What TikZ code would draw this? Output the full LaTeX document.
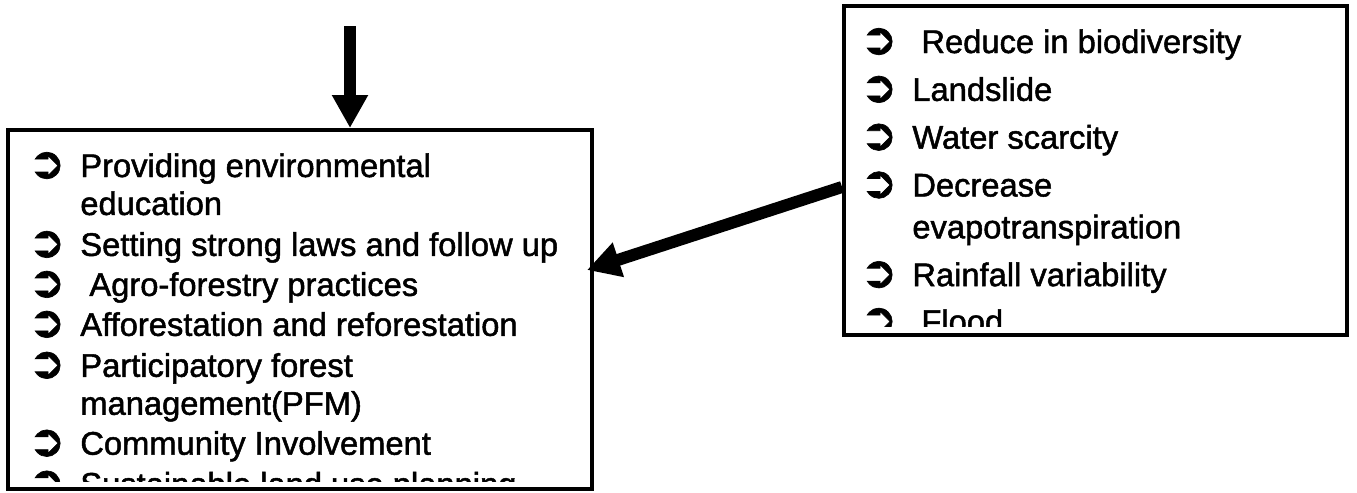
\documentclass[tikz,border=0pt]{standalone}
\usepackage{fontspec}
\setmainfont{Liberation Sans}[FakeBold=1.5]
\newfontfamily\symfont{DejaVu Sans}[FakeBold=1.5]
\usetikzlibrary{arrows.meta}
\newcommand{\itm}{\makebox[0.9cm][l]{\hspace*{-0.14cm}\raisebox{-0.02cm}{\scalebox{1.35}{\symfont ➲}}}}
\newcommand{\cont}{\hspace*{0.9cm}}

\begin{document}
\begin{tikzpicture}[
    box/.style={draw, line width=0.08cm, inner sep=0pt, anchor=center},
    list/.style={anchor=base west, inner sep=0pt},
    leftfont/.style={font=\fontsize{18.6}{21.6}\selectfont},
    rightfont/.style={font=\fontsize{18.6}{23.8}\selectfont},
    bigarrow/.style={line width=0.24cm, -{Triangle[length=0.66cm,width=0.68cm]}},
  ]
  \useasboundingbox (0,0) rectangle (27.14,-9.84);

  % --- the two boxes ---
  \node[box, minimum width=11.68cm, minimum height=7.18cm] (mitig) at (6.0,-6.19) {};
  \node[box, minimum width=10.06cm, minimum height=6.58cm] (impact) at (21.91,-3.41) {};

  % --- measures (left box), cut above the frame ---
  \begin{scope}
    \clip ([shift={(0.08,-0.08)}]mitig.north west) rectangle ([shift={(-0.08,0.2)}]mitig.south east);
    \node[list, leftfont] (mitiglist) at (0.7,-3.54) {%
      \begin{tabular}[t]{@{}l@{}}
      \itm Providing environmental\\
      \cont education\\[0.06cm]
      \itm Setting strong laws and follow up\\[0.04cm]
      \itm\ Agro-forestry practices\\[0.04cm]
      \itm Afforestation and reforestation\\[0.06cm]
      \itm Participatory forest\\
      \cont management(PFM)\\[0.04cm]
      \itm Community Involvement\\[0.06cm]
      \itm Sustainable land use planning
      \end{tabular}};
  \end{scope}

  % --- impacts (right box), cut above the frame ---
  \begin{scope}
    \clip ([shift={(0.08,-0.08)}]impact.north west) rectangle ([shift={(-0.08,0.22)}]impact.south east);
    \node[list, rightfont] (impactlist) at (17.34,-1.06) {%
      \begin{tabular}[t]{@{}l@{}}
      \itm\ Reduce in biodiversity\\[0.12cm]
      \itm Landslide\\[0.12cm]
      \itm Water scarcity\\[0.12cm]
      \itm Decrease\\
      \cont evapotranspiration\\[0.12cm]
      \itm Rainfall variability\\[0.1cm]
      \itm\ Flood
      \end{tabular}};
  \end{scope}

  % --- arrows ---
  \coordinate (intop) at (7.0,-0.52);
  \draw[bigarrow] (intop) -- (intop |- mitig.north);
  \coordinate (impfrom) at ([yshift=-0.33cm]impact.west);
  \coordinate (mitto) at ([shift={(-0.14,0.79)}]mitig.east);
  \draw[bigarrow] (impfrom) -- (mitto);
\end{tikzpicture}
\end{document}
